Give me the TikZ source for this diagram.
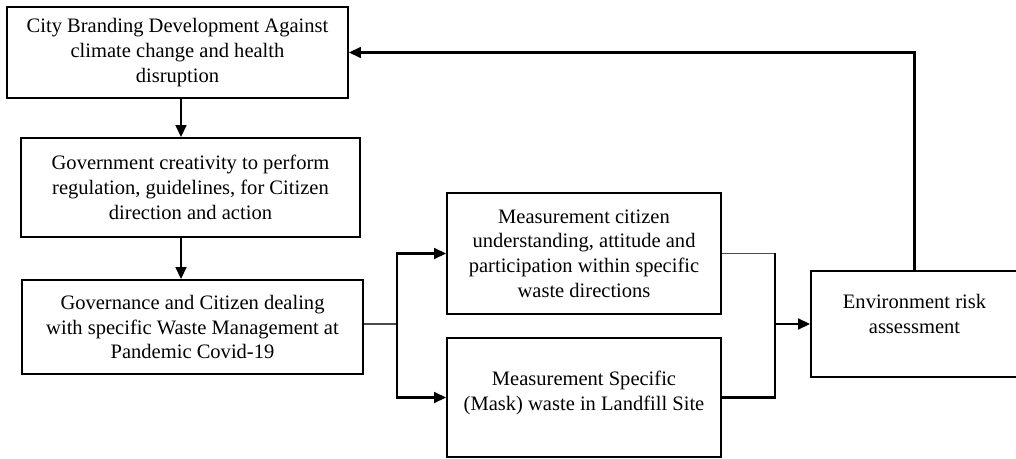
\documentclass[tikz,border=0pt]{standalone}
\usepackage{fontspec}
\setmainfont{Liberation Serif}
\usetikzlibrary{arrows.meta,positioning,calc}

\begin{document}
\begin{tikzpicture}[
    x=0.75pt, y=-0.75pt,
    stage/.style={
        draw,
        line width=1.3pt,
        align=center,
        inner sep=0pt,
        font=\fontsize{15.4}{18.5}\selectfont
    },
    wide/.style={stage, minimum width=255.75pt},
    measure/.style={stage, minimum width=205.5pt},
    arrow/.style={-{Triangle[length=9pt,width=8pt]}, line width=1.8pt},
    link/.style={line width=1.8pt},
    thinlink/.style={line width=0.9pt, black!70}
]
\useasboundingbox (0,0) rectangle (1016,459);

\node[wide, minimum height=68.25pt] (brand) at (177.5,52.5) {City Branding Development Against\\climate change and health\\disruption};
\node[wide, minimum width=254.25pt, minimum height=74.25pt] (gov) at (190.5,187.5) {Government creativity to perform\\regulation, guidelines, for Citizen\\direction and action};
\node[wide, minimum height=70.5pt] (waste) at (192.5,327) {Governance and Citizen dealing\\with specific Waste Management at\\Pandemic Covid-19};

\node[measure, minimum height=90.75pt] (citizen) at (584,253.5) {Measurement citizen\\understanding, attitude and\\participation within specific\\waste directions};
\node[measure, minimum height=89.25pt] (mask) at (584,397.5) {Measurement Specific\\(Mask) waste in Landfill Site\\[-8pt]\mbox{}};

\node[stage, minimum width=155.25pt, minimum height=79.5pt] (risk) at (914.5,324) {Environment risk\\assessment\\[-3pt]\mbox{}};

\coordinate (axis) at (181,0);
\coordinate (split) at (397,324);
\coordinate (join) at (775,324);

\draw[arrow] (brand.south -| axis) -- (gov.north -| axis);
\draw[arrow] (gov.south -| axis) -- (waste.north -| axis);

\draw[thinlink] (waste.east |- split) -- (split);
\draw[arrow] (split) |- (citizen.west);
\draw[arrow] (split) |- (mask.west);

\draw[thinlink] (citizen.east) -- (citizen.east -| join);
\draw[link] (citizen.east -| join) -- (join);
\draw[link] (mask.east) -| (join);
\draw[arrow] (join) -- (risk.west);

\draw[arrow] (risk.north) |- (brand.east);
\end{tikzpicture}
\end{document}
